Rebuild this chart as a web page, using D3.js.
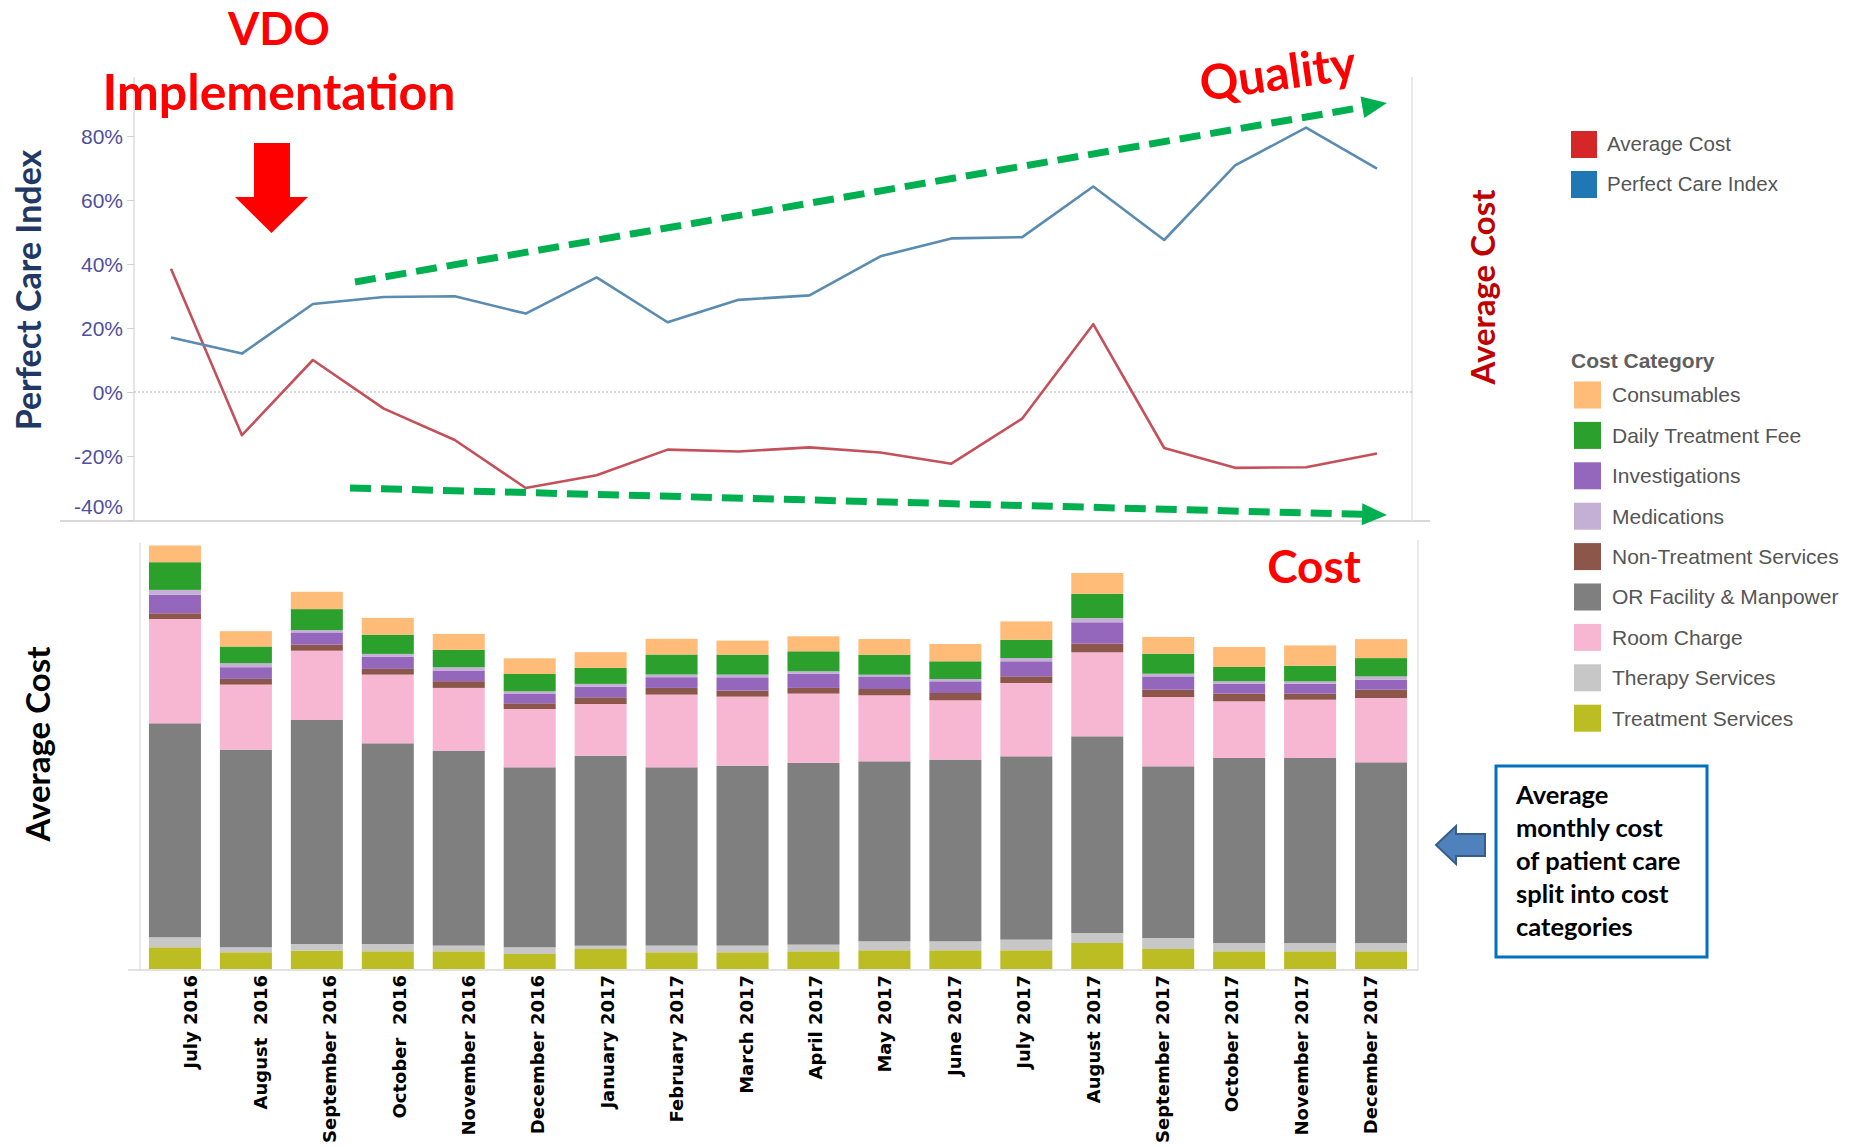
<!DOCTYPE html>
<html>
<head>
<meta charset="utf-8">
<script src="https://cdnjs.cloudflare.com/ajax/libs/d3/7.8.5/d3.min.js"></script>
<style>
  body { margin: 0; background: #fff; }
  svg { display: block; }
</style>
</head>
<body>
<div id="chart"></div>
<script>
// months on the x axis (the double spaces are in the original labels)
var months = ["July 2016", "August  2016", "September 2016", "October  2016", "November 2016",
  "December 2016", "January 2017", "February 2017", "March 2017", "April 2017", "May 2017",
  "June 2017", "July 2017", "August 2017", "September 2017", "October 2017", "November 2017",
  "December 2017"];

// top chart, both series in % (average cost shown as % change)
var perfectCareIndex = [17, 12, 27.5, 29.7, 29.9, 24.5, 35.8, 21.8, 28.8, 30.2, 42.4, 48, 48.4, 64.2, 47.5, 70.8, 82.6, 69.8];
var averageCostPct = [38.5, -13.5, 10, -5.2, -15, -30, -26, -18, -18.6, -17.3, -18.9, -22.4, -8.3, 21.2, -17.5, -23.7, -23.5, -19.2];
var pctTicks = [-40, -20, 0, 20, 40, 60, 80];

// bottom chart, average monthly cost per category
var treatmentServices = [217, 167, 183, 177, 177, 150, 200, 167, 167, 177, 187, 187, 187, 260, 200, 177, 177, 177];
var therapyServices = [100, 50, 67, 73, 57, 67, 33, 67, 67, 67, 90, 90, 107, 100, 110, 83, 83, 83];
var orFacility = [2140, 1977, 2240, 2007, 1950, 1800, 1900, 1783, 1800, 1817, 1800, 1817, 1833, 1967, 1717, 1850, 1850, 1807];
var roomCharge = [1043, 650, 693, 687, 627, 583, 517, 727, 690, 693, 660, 593, 733, 840, 693, 567, 583, 643];
var nonTreatment = [57, 57, 60, 57, 67, 57, 67, 67, 60, 57, 63, 73, 67, 87, 73, 77, 60, 83];
var investigations = [187, 117, 123, 123, 107, 93, 107, 107, 133, 143, 120, 117, 150, 213, 133, 100, 100, 100];
var medications = [47, 40, 23, 27, 33, 27, 27, 27, 27, 23, 23, 23, 33, 43, 27, 23, 23, 33];
var dailyFee = [277, 167, 210, 193, 173, 173, 160, 200, 200, 200, 200, 177, 183, 243, 200, 143, 157, 183];
var consumables = [167, 153, 173, 167, 160, 157, 157, 157, 140, 150, 157, 173, 183, 207, 167, 200, 203, 190];

// legend order
var categories = ["Consumables", "Daily Treatment Fee", "Investigations", "Medications",
  "Non-Treatment Services", "OR Facility & Manpower", "Room Charge", "Therapy Services", "Treatment Services"];
var catColors = ["#ffbb78", "#2ca02c", "#9467bd", "#c5b0d5", "#8c564b", "#7f7f7f", "#f7b6d2", "#c7c7c7", "#bcbd22"];
// order in the stack, bottom to top
var stackOrder = ["Treatment Services", "Therapy Services", "OR Facility & Manpower", "Room Charge",
  "Non-Treatment Services", "Investigations", "Medications", "Daily Treatment Fee", "Consumables"];
var seriesByName = {
  "Treatment Services": treatmentServices, "Therapy Services": therapyServices,
  "OR Facility & Manpower": orFacility, "Room Charge": roomCharge,
  "Non-Treatment Services": nonTreatment, "Investigations": investigations,
  "Medications": medications, "Daily Treatment Fee": dailyFee, "Consumables": consumables
};

var width = 1857, height = 1147;
var svg = d3.select('#chart').append('svg')
  .attr('width', width).attr('height', height)
  .style('background', '#fff');

var color = d3.scaleOrdinal().domain(categories).range(catColors);

// ---------- top chart ----------
var xLine = d3.scalePoint().domain(months).range([171, 1377]);
var yTop = d3.scaleLinear().domain([-40, 80]).range([520, 136]);

var topG = svg.append('g');
// frame
topG.append('line').attr('x1', 134).attr('x2', 134).attr('y1', 77).attr('y2', 521)
  .attr('stroke', '#dcdcdc').attr('stroke-width', 1.5);
topG.append('line').attr('x1', 60).attr('x2', 1430).attr('y1', 521).attr('y2', 521)
  .attr('stroke', '#d8d8d8').attr('stroke-width', 2);
topG.append('line').attr('x1', 1412).attr('x2', 1412).attr('y1', 77).attr('y2', 521)
  .attr('stroke', '#e2e2e2').attr('stroke-width', 1.5);
// zero line
topG.append('line').attr('x1', 134).attr('x2', 1412).attr('y1', yTop(0)).attr('y2', yTop(0))
  .attr('stroke', '#b5b5b5').attr('stroke-width', 1.2).attr('stroke-dasharray', '2,2');

var yAxis = topG.append('g').attr('transform', 'translate(134,0)')
  .call(d3.axisLeft(yTop).tickValues(pctTicks).tickSize(7).tickPadding(4)
    .tickFormat(function(d) { return d + '%'; }));
yAxis.select('.domain').remove();
yAxis.selectAll('.tick line').attr('stroke', '#d0d0d0');
yAxis.selectAll('.tick text')
  .attr('fill', '#4f4fa0').style('font-family', '"Liberation Sans", Arial, sans-serif')
  .style('font-size', '21px')
  .attr('dy', function(d) { return d === -40 ? '-0.32em' : '0.35em'; });

topG.append('path').datum(averageCostPct)
  .attr('fill', 'none').attr('stroke', '#c4505a').attr('stroke-width', 2.6)
  .attr('stroke-linejoin', 'round')
  .attr('d', d3.line().x(function(d, i) { return xLine(months[i]); }).y(function(d) { return yTop(d); }));
topG.append('path').datum(perfectCareIndex)
  .attr('fill', 'none').attr('stroke', '#5a8bb0').attr('stroke-width', 2.6)
  .attr('stroke-linejoin', 'round')
  .attr('d', d3.line().x(function(d, i) { return xLine(months[i]); }).y(function(d) { return yTop(d); }));

// ---------- bottom chart ----------
var xBar = d3.scaleBand().domain(months).range([130, 1426]).padding(0.267);
var yBar = d3.scaleLinear().domain([0, 4500]).range([969, 519]);
var xLabel = d3.scalePoint().domain(months).range([191, 1371]);

var rows = months.map(function(m, i) {
  var r = { month: m };
  stackOrder.forEach(function(k) { r[k] = seriesByName[k][i]; });
  return r;
});
var stacked = d3.stack().keys(stackOrder)(rows);

var bottomG = svg.append('g');
bottomG.append('line').attr('x1', 140).attr('x2', 140).attr('y1', 543).attr('y2', 970)
  .attr('stroke', '#e4e4e4').attr('stroke-width', 1.5);
bottomG.append('line').attr('x1', 1418).attr('x2', 1418).attr('y1', 540).attr('y2', 970)
  .attr('stroke', '#e4e4e4').attr('stroke-width', 1.5);

bottomG.selectAll('g.layer').data(stacked).enter().append('g')
  .attr('class', 'layer')
  .attr('fill', function(d) { return color(d.key); })
  .selectAll('rect').data(function(d) { return d; }).enter().append('rect')
  .attr('x', function(d) { return xBar(d.data.month); })
  .attr('width', xBar.bandwidth())
  .attr('y', function(d) { return yBar(d[1]); })
  .attr('height', function(d) { return yBar(d[0]) - yBar(d[1]); });

var xAxis = bottomG.append('g').attr('transform', 'translate(0,970)')
  .call(d3.axisBottom(xBar).tickSize(0).tickFormat(''));
xAxis.select('.domain').attr('stroke', '#d8d8d8').attr('stroke-width', 1.5)
  .attr('d', 'M128,0H1418');

bottomG.selectAll('text.month').data(months).enter().append('text')
  .attr('class', 'month')
  .attr('transform', function(d) { return 'translate(' + xLabel(d) + ',975) rotate(-90)'; })
  .attr('text-anchor', 'end').attr('dy', '0.35em')
  .style('white-space', 'pre')
  .style('font-family', '"DejaVu Sans", Verdana, sans-serif')
  .style('font-weight', 'bold').style('font-size', '18px')
  .attr('fill', '#000')
  .text(function(d) { return d; });

// ---------- axis titles ----------
var bigFont = 'Lato, "Open Sans", sans-serif';
svg.append('text').attr('transform', 'translate(41,290) rotate(-90)')
  .attr('text-anchor', 'middle').style('font-family', bigFont).style('font-weight', 'bold')
  .style('font-size', '34px').attr('fill', '#1f3864').text('Perfect Care Index');
svg.append('text').attr('transform', 'translate(50,744) rotate(-90)')
  .attr('text-anchor', 'middle').style('font-family', bigFont).style('font-weight', 'bold')
  .style('font-size', '33px').attr('fill', '#000').text('Average Cost');
svg.append('text').attr('transform', 'translate(1495,287) rotate(-90)')
  .attr('text-anchor', 'middle').style('font-family', bigFont).style('font-weight', 'bold')
  .style('font-size', '33px').attr('fill', '#c00000').text('Average Cost');

// ---------- annotations ----------
svg.append('text').attr('x', 279).attr('y', 45).attr('text-anchor', 'middle')
  .style('font-family', bigFont).style('font-weight', 'bold').style('font-size', '45px')
  .attr('fill', '#ff0000').text('VDO');
svg.append('text').attr('x', 279).attr('y', 110).attr('text-anchor', 'middle')
  .style('font-family', bigFont).style('font-weight', 'bold').style('font-size', '50px')
  .attr('fill', '#ff0000').text('Implementation');
svg.append('text').attr('transform', 'translate(1280,90) rotate(-8)').attr('text-anchor', 'middle')
  .style('font-family', bigFont).style('font-weight', 'bold').style('font-size', '48px')
  .attr('fill', '#ff0000').text('Quality');
svg.append('text').attr('x', 1314).attr('y', 583).attr('text-anchor', 'middle')
  .style('font-family', bigFont).style('font-weight', 'bold').style('font-size', '46px')
  .attr('fill', '#ff0000').text('Cost');

// red arrow down
svg.append('path').attr('fill', '#ff0000')
  .attr('d', 'M254,143H290V197H308L271.5,233L235,197H254Z');

// green dashed trend arrows
function trendArrow(x1, y1, x2, y2) {
  var dx = x2 - x1, dy = y2 - y1, len = Math.sqrt(dx * dx + dy * dy);
  var ux = dx / len, uy = dy / len, hl = 25, hw = 11;
  var bx = x2 - ux * hl, by = y2 - uy * hl;
  svg.append('line').attr('x1', x1).attr('y1', y1).attr('x2', bx).attr('y2', by)
    .attr('stroke', '#00b050').attr('stroke-width', 7).attr('stroke-dasharray', '21,10');
  svg.append('path').attr('fill', '#00b050')
    .attr('d', 'M' + x2 + ',' + y2 + 'L' + (bx - uy * hw) + ',' + (by + ux * hw) +
      'L' + (bx + uy * hw) + ',' + (by - ux * hw) + 'Z');
}
trendArrow(355, 282, 1387, 103);
trendArrow(350, 488, 1387, 515);

// ---------- legends ----------
var legFont = '"Liberation Sans", Arial, sans-serif';
var lineLegend = [["Average Cost", "#d62728"], ["Perfect Care Index", "#1f77b4"]];
lineLegend.forEach(function(d, i) {
  var cy = 144 + i * 40;
  svg.append('rect').attr('x', 1571).attr('y', cy - 13).attr('width', 26).attr('height', 27).attr('fill', d[1]);
  svg.append('text').attr('x', 1607).attr('y', cy).attr('dy', '0.35em')
    .style('font-family', legFont).style('font-size', '20.5px').attr('fill', '#555').text(d[0]);
});

svg.append('text').attr('x', 1571).attr('y', 361).attr('dy', '0.35em')
  .style('font-family', legFont).style('font-weight', 'bold').style('font-size', '21px')
  .attr('fill', '#5f5f5f').text('Cost Category');
categories.forEach(function(c, i) {
  var cy = 395 + i * 40.4;
  svg.append('rect').attr('x', 1574).attr('y', cy - 13.5).attr('width', 27).attr('height', 27).attr('fill', color(c));
  svg.append('text').attr('x', 1612).attr('y', cy).attr('dy', '0.35em')
    .style('font-family', legFont).style('font-size', '21px').attr('fill', '#555').text(c);
});

// ---------- note box ----------
svg.append('path').attr('fill', '#4f81bd').attr('stroke', '#385d8a').attr('stroke-width', 2)
  .attr('d', 'M1436,845L1456,826V834H1485V856H1456V864Z');
svg.append('rect').attr('x', 1496).attr('y', 766).attr('width', 211).attr('height', 191)
  .attr('fill', '#fff').attr('stroke', '#0070c0').attr('stroke-width', 3);
var note = ["Average", "monthly cost", "of patient care", "split into cost", "categories"];
note.forEach(function(t, i) {
  svg.append('text').attr('x', 1516).attr('y', 804 + i * 33)
    .style('font-family', bigFont).style('font-weight', 'bold').style('font-size', '25.5px')
    .attr('fill', '#000').text(t);
});
</script>
</body>
</html>
